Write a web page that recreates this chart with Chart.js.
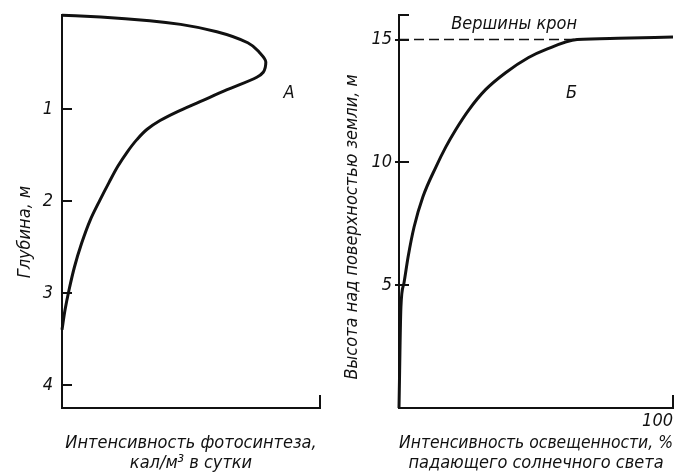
<!DOCTYPE html>
<html>
<head>
<meta charset="utf-8">
<script src="https://cdn.jsdelivr.net/npm/chart.js@4.4.1/dist/chart.umd.min.js"></script>
<style>
  html, body { margin: 0; padding: 0; background: #fff; }
  #wrap { position: relative; width: 682px; height: 474px; }
  canvas { position: absolute; top: 0; }
  #chart-a { left: 0; }
  #chart-b { left: 340px; }
</style>
</head>
<body>
<div id="wrap">
  <canvas id="chart-a" width="340" height="474"></canvas>
  <canvas id="chart-b" width="342" height="474"></canvas>
</div>
<script>
// ── Data: A — photosynthesis rate vs depth (x in relative units 0..100) ──
const photoRate  = [0, 15, 34, 46, 60, 72, 76.7, 79, 78, 75.5, 64, 53.5, 44.6, 38, 33, 29.1, 25.2, 21.7, 18.2, 14.7, 10.9, 7.6, 4.8, 2.7, 1.2, 0];
const photoDepth = [-0.02, 0, 0.04, 0.08, 0.16, 0.28, 0.39, 0.49, 0.60, 0.655, 0.79, 0.92, 1.03, 1.125, 1.22, 1.33, 1.47, 1.62, 1.80, 1.99, 2.21, 2.46, 2.72, 2.97, 3.18, 3.40];
const depthTicks = [1, 2, 3, 4];

// ── Data: Б — light intensity vs height above ground ──
const lightPct    = [0, 0.7, 1.8, 3.3, 5.5, 8.7, 13.5, 17.1, 20.7, 25.5, 31.6, 38.9, 47.3, 53.5, 65, 80, 100];
const lightHeight = [0, 4.1, 5.08, 6.14, 7.37, 8.59, 9.82, 10.63, 11.33, 12.14, 12.96, 13.65, 14.27, 14.59, 15.0, 15.05, 15.1];
const crownX = [0, 64];
const crownY = [15, 15];
const heightTicks = [5, 10, 15];
const lightTicks = [100];

const INK = '#111';
const FAMILY = "'DejaVu Sans Condensed', 'Liberation Sans Narrow', 'DejaVu Sans', sans-serif";
const txtFont = { family: FAMILY, size: 18, style: 'italic', lineHeight: 1.15 };
const FSP = '\u2007'; // figure space, nudges the rotated titles down a little

const pts = (xs, ys) => xs.map((v, i) => ({ x: v, y: ys[i] }));

// fixed box sizes, no extra label padding pushed into the layout
const fixBox = (w, h) => s => {
  if (w != null) s.width = w;
  if (h != null) s.height = h;
  s.paddingTop = s.paddingBottom = s.paddingLeft = s.paddingRight = 0;
};

// inward tick marks, axis end marks and free text notes
const decor = {
  id: 'decor',
  afterDraw(chart, args, opts) {
    const { ctx, chartArea: a, scales: { x, y } } = chart;
    ctx.save();
    ctx.strokeStyle = INK;
    ctx.lineWidth = 2;
    y.ticks.forEach(t => {
      const py = Math.round(y.getPixelForValue(t.value));
      ctx.beginPath();
      ctx.moveTo(a.left - opts.tickOut, py);
      ctx.lineTo(a.left + 10, py);
      ctx.stroke();
    });
    ctx.beginPath();
    ctx.moveTo(a.right, a.bottom + 1);
    ctx.lineTo(a.right, a.bottom - 13);
    ctx.stroke();
    if (opts.topCap) {
      ctx.beginPath();
      ctx.moveTo(a.left - 1, a.top);
      ctx.lineTo(a.left + 10, a.top);
      ctx.stroke();
    }
    ctx.fillStyle = INK;
    ctx.font = `italic 18px ${FAMILY}`;
    ctx.textAlign = 'center';
    ctx.textBaseline = 'middle';
    (opts.notes || []).forEach(n => {
      ctx.fillText(n.text, x.getPixelForValue(n.x), y.getPixelForValue(n.y));
    });
    ctx.restore();
  }
};

const baseOpts = {
  responsive: false,
  animation: false,
  devicePixelRatio: 1,
};

// ── Chart A ────────────────────────────────────────────────────────────────
// the curve is a function of depth, so interpolate along the y axis
new Chart(document.getElementById('chart-a'), {
  type: 'scatter',
  data: {
    datasets: [{
      data: pts(photoRate, photoDepth),
      indexAxis: 'y',
      showLine: true, borderColor: INK, borderWidth: 3,
      pointRadius: 0, cubicInterpolationMode: 'monotone', clip: false,
    }]
  },
  options: {
    ...baseOpts,
    layout: { padding: { left: 0, top: 15, right: 20, bottom: 0 } },
    plugins: {
      legend: { display: false },
      tooltip: { enabled: false },
      decor: { tickOut: 0, notes: [{ text: 'А', x: 88, y: 0.83 }] },
    },
    scales: {
      x: {
        type: 'linear', position: 'bottom', min: 0, max: 100,
        grid: { display: false, drawTicks: false },
        border: { color: INK, width: 2 },
        ticks: { display: false },
        title: {
          display: true, color: INK, font: txtFont, padding: { top: 0, bottom: 0 },
          text: ['Интенсивность фотосинтеза,', 'кал/м³ в сутки'],
        },
        afterFit: fixBox(null, 66),
      },
      y: {
        type: 'linear', position: 'left', reverse: true, min: -0.022, max: 4.25,
        afterBuildTicks: s => { s.ticks = depthTicks.map(v => ({ value: v })); },
        grid: { display: false, drawTicks: false },
        border: { color: INK, width: 2 },
        ticks: { color: INK, font: txtFont, padding: 9 },
        title: {
          display: true, color: INK, font: txtFont, padding: { top: 15, bottom: 0 },
          text: 'Глубина, м' + FSP.repeat(4),
        },
        afterFit: fixBox(62, null),
      },
    },
  },
  plugins: [decor],
});

// ── Chart Б ────────────────────────────────────────────────────────────────
new Chart(document.getElementById('chart-b'), {
  type: 'scatter',
  data: {
    datasets: [{
      data: pts(lightPct, lightHeight),
      showLine: true, borderColor: INK, borderWidth: 3,
      pointRadius: 0, cubicInterpolationMode: 'monotone', clip: false,
    }, {
      data: pts(crownX, crownY),
      showLine: true, borderColor: INK, borderWidth: 1.5, borderDash: [10, 5],
      pointRadius: 0, clip: false,
    }]
  },
  options: {
    ...baseOpts,
    layout: { padding: { left: 0, top: 15, right: 9, bottom: 0 } },
    plugins: {
      legend: { display: false },
      tooltip: { enabled: false },
      decor: {
        tickOut: 4, topCap: true,
        notes: [{ text: 'Б', x: 63, y: 12.8 }, { text: 'Вершины крон', x: 42, y: 15.6 }],
      },
    },
    scales: {
      x: {
        type: 'linear', min: 0, max: 100,
        afterBuildTicks: s => { s.ticks = lightTicks.map(v => ({ value: v })); },
        grid: { display: false, drawTicks: false },
        border: { color: INK, width: 2 },
        ticks: { color: INK, font: txtFont, padding: 3, align: 'end', maxRotation: 0 },
        title: {
          display: true, color: INK, font: txtFont, padding: { top: 0, bottom: 0 },
          text: ['Интенсивность освещенности, %', 'падающего солнечного света'],
        },
        afterFit: fixBox(null, 66),
      },
      y: {
        type: 'linear', min: 0, max: 16,
        afterBuildTicks: s => { s.ticks = heightTicks.map(v => ({ value: v })); },
        grid: { display: false, drawTicks: false },
        border: { color: INK, width: 2 },
        ticks: { color: INK, font: txtFont, padding: 7 },
        title: {
          display: true, color: INK, font: txtFont, padding: { top: 2, bottom: 0 },
          text: 'Высота над поверхностью земли, м' + FSP.repeat(3),
        },
        afterFit: fixBox(59, null),
      },
    },
  },
  plugins: [decor],
});
</script>
</body>
</html>
